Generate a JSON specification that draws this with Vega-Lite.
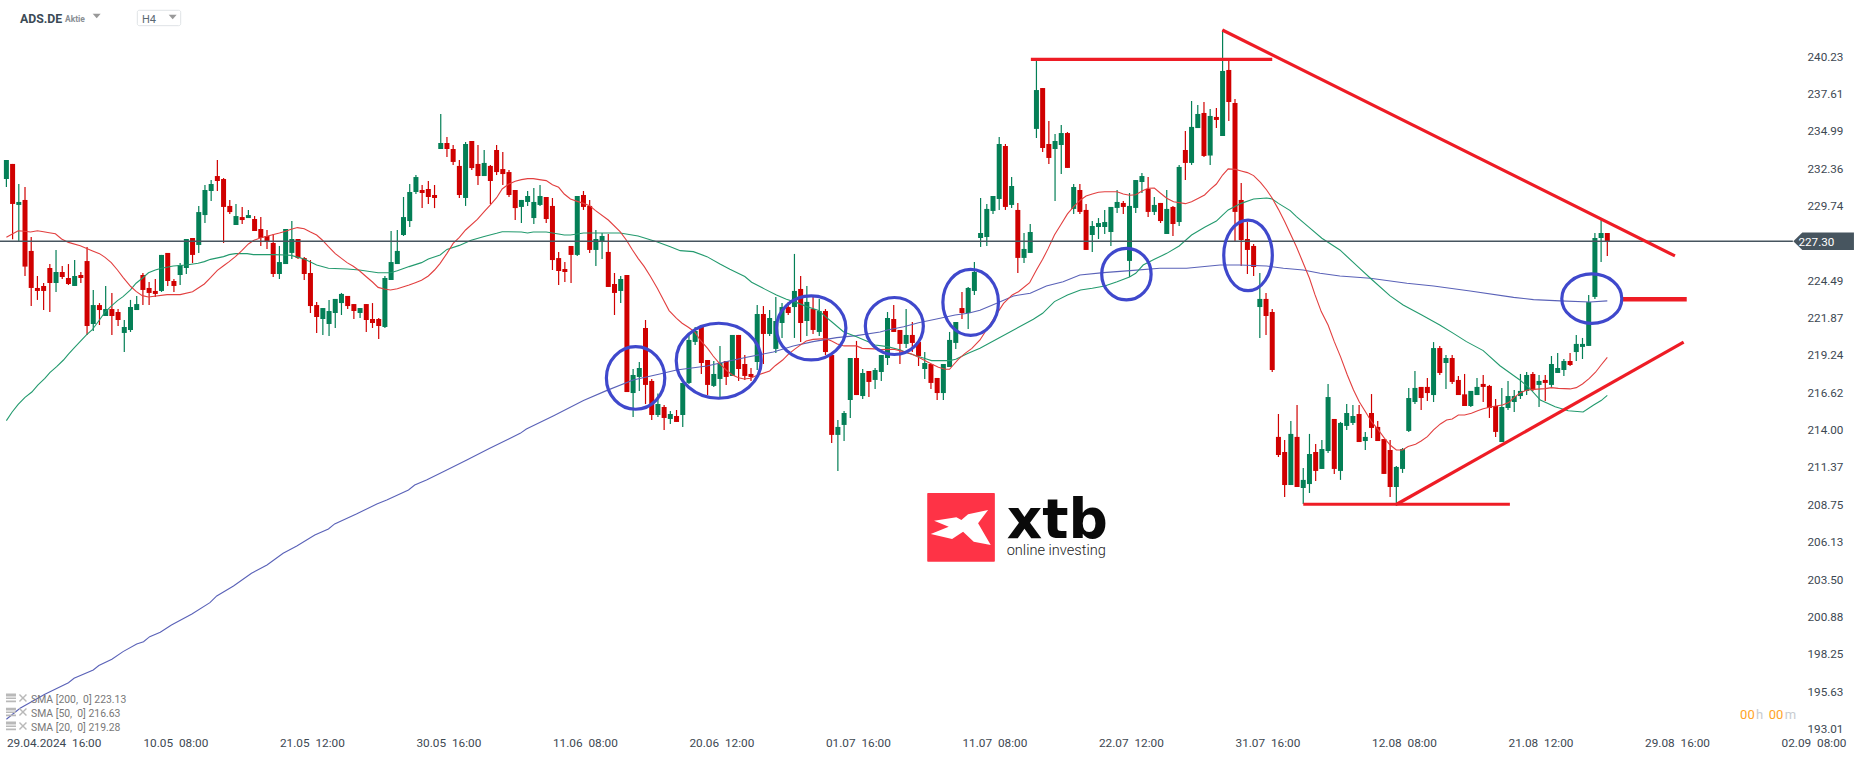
{
"$schema":"https://vega.github.io/schema/vega-lite/v6.json",
"autosize":{"type":"none"},"padding":0,"width":1866,"height":759,"background":"#ffffff",
"config":{"view":{"stroke":null},"font":"Roboto"},
"datasets":{
"candles":[
{"i":0,"o":231.66,"h":233.00,"l":231.10,"c":233.00},{"i":1,"o":232.72,"h":232.72,"l":227.43,"c":229.91},{"i":2,"o":229.84,"h":231.31,"l":227.29,"c":230.05},{"i":3,"o":230.19,"h":231.10,"l":224.85,"c":225.51},{"i":4,"o":226.61,"h":227.59,"l":222.74,"c":224.01},{"i":5,"o":224.01,"h":224.85,"l":223.17,"c":223.80},{"i":6,"o":224.15,"h":224.36,"l":222.46,"c":223.80},{"i":7,"o":225.41,"h":225.69,"l":222.32,"c":224.36},{"i":8,"o":224.36,"h":226.68,"l":223.73,"c":225.13},{"i":9,"o":225.13,"h":225.55,"l":224.64,"c":224.78},
{"i":10,"o":224.71,"h":225.69,"l":224.22,"c":224.29},{"i":11,"o":224.15,"h":225.97,"l":224.15,"c":224.85},{"i":12,"o":224.92,"h":225.13,"l":224.36,"c":224.71},{"i":13,"o":225.90,"h":226.89,"l":220.71,"c":221.34},{"i":14,"o":221.48,"h":223.87,"l":220.99,"c":222.81},{"i":15,"o":222.81,"h":222.95,"l":221.41,"c":222.46},{"i":16,"o":222.04,"h":224.15,"l":222.04,"c":222.53},{"i":17,"o":222.53,"h":223.66,"l":220.71,"c":222.04},{"i":18,"o":222.32,"h":222.53,"l":221.34,"c":221.76},{"i":19,"o":220.85,"h":221.76,"l":219.51,"c":221.27},
{"i":20,"o":221.06,"h":223.17,"l":220.92,"c":222.67},{"i":21,"o":222.46,"h":223.45,"l":222.46,"c":222.88},{"i":22,"o":224.92,"h":225.06,"l":222.81,"c":223.87},{"i":23,"o":224.01,"h":224.43,"l":222.81,"c":223.66},{"i":24,"o":223.80,"h":224.64,"l":223.38,"c":223.59},{"i":25,"o":223.80,"h":226.33,"l":223.73,"c":226.33},{"i":26,"o":226.47,"h":226.47,"l":224.15,"c":224.50},{"i":27,"o":224.50,"h":224.64,"l":223.73,"c":224.15},{"i":28,"o":224.92,"h":225.76,"l":224.22,"c":225.62},{"i":29,"o":225.41,"h":227.45,"l":224.99,"c":227.45},
{"i":30,"o":227.52,"h":227.52,"l":225.76,"c":226.33},{"i":31,"o":227.03,"h":229.77,"l":226.47,"c":229.34},{"i":32,"o":229.13,"h":231.24,"l":228.57,"c":230.89},{"i":33,"o":230.82,"h":231.59,"l":230.12,"c":231.31},{"i":34,"o":231.87,"h":233.00,"l":230.82,"c":231.52},{"i":35,"o":231.66,"h":231.73,"l":227.17,"c":229.70},{"i":36,"o":229.77,"h":230.19,"l":229.20,"c":229.34},{"i":37,"o":228.43,"h":229.91,"l":228.43,"c":229.06},{"i":38,"o":228.99,"h":229.70,"l":228.50,"c":228.78},{"i":39,"o":228.92,"h":229.49,"l":228.92,"c":229.13},
{"i":40,"o":228.85,"h":229.06,"l":228.01,"c":228.01},{"i":41,"o":228.15,"h":228.99,"l":226.96,"c":227.52},{"i":42,"o":227.66,"h":228.08,"l":226.75,"c":227.31},{"i":43,"o":227.17,"h":227.80,"l":224.78,"c":224.99},{"i":44,"o":224.99,"h":226.96,"l":224.64,"c":225.83},{"i":45,"o":225.69,"h":228.15,"l":225.69,"c":228.15},{"i":46,"o":226.47,"h":228.71,"l":226.04,"c":227.45},{"i":47,"o":227.45,"h":227.45,"l":226.04,"c":226.11},{"i":48,"o":226.11,"h":226.18,"l":224.57,"c":224.99},{"i":49,"o":225.06,"h":225.97,"l":222.25,"c":222.74},
{"i":50,"o":222.81,"h":223.02,"l":220.85,"c":221.97},{"i":51,"o":221.83,"h":222.60,"l":220.71,"c":222.60},{"i":52,"o":221.48,"h":223.17,"l":220.64,"c":222.39},{"i":53,"o":222.25,"h":223.24,"l":221.20,"c":223.24},{"i":54,"o":222.95,"h":223.66,"l":222.11,"c":223.59},{"i":55,"o":223.45,"h":223.45,"l":222.53,"c":222.74},{"i":56,"o":222.88,"h":222.88,"l":221.83,"c":222.39},{"i":57,"o":222.25,"h":222.60,"l":221.90,"c":222.60},{"i":58,"o":222.88,"h":222.88,"l":220.92,"c":221.76},{"i":59,"o":221.83,"h":222.95,"l":221.20,"c":221.55},
{"i":60,"o":221.83,"h":221.90,"l":220.43,"c":221.34},{"i":61,"o":221.27,"h":224.85,"l":221.20,"c":224.71},{"i":62,"o":224.57,"h":228.01,"l":224.57,"c":225.83},{"i":63,"o":225.69,"h":228.08,"l":225.69,"c":226.61},{"i":64,"o":227.73,"h":230.40,"l":227.66,"c":228.99},{"i":65,"o":228.71,"h":231.31,"l":228.29,"c":230.75},{"i":66,"o":230.75,"h":231.94,"l":230.61,"c":231.80},{"i":67,"o":230.89,"h":231.24,"l":229.62,"c":230.68},{"i":68,"o":230.96,"h":231.52,"l":229.91,"c":230.40},{"i":69,"o":230.54,"h":231.24,"l":229.62,"c":230.33},
{"i":70,"o":233.77,"h":236.23,"l":233.77,"c":234.19},{"i":71,"o":234.19,"h":234.61,"l":233.21,"c":233.77},{"i":72,"o":233.77,"h":234.05,"l":232.65,"c":232.86},{"i":73,"o":232.58,"h":233.00,"l":230.33,"c":230.54},{"i":74,"o":230.33,"h":234.26,"l":229.77,"c":234.12},{"i":75,"o":234.33,"h":234.33,"l":232.29,"c":232.43},{"i":76,"o":232.72,"h":234.05,"l":231.24,"c":231.87},{"i":77,"o":231.87,"h":233.70,"l":231.87,"c":232.79},{"i":78,"o":232.58,"h":232.65,"l":229.91,"c":231.52},{"i":79,"o":233.70,"h":234.05,"l":231.94,"c":232.15},
{"i":80,"o":232.36,"h":233.56,"l":231.24,"c":232.01},{"i":81,"o":232.15,"h":232.29,"l":230.40,"c":230.54},{"i":82,"o":230.89,"h":230.89,"l":228.78,"c":229.62},{"i":83,"o":229.70,"h":230.19,"l":228.57,"c":230.19},{"i":84,"o":230.05,"h":230.82,"l":229.77,"c":230.47},{"i":85,"o":228.92,"h":231.03,"l":228.50,"c":230.05},{"i":86,"o":229.84,"h":231.24,"l":229.77,"c":230.47},{"i":87,"o":230.40,"h":230.40,"l":228.57,"c":228.85},{"i":88,"o":229.77,"h":230.33,"l":225.27,"c":225.97},{"i":89,"o":226.11,"h":226.54,"l":224.22,"c":225.20},
{"i":90,"o":225.34,"h":225.83,"l":224.43,"c":225.13},{"i":91,"o":226.96,"h":226.96,"l":224.36,"c":226.33},{"i":92,"o":226.33,"h":230.47,"l":226.26,"c":230.47},{"i":93,"o":230.54,"h":230.82,"l":229.49,"c":229.70},{"i":94,"o":229.77,"h":230.19,"l":226.47,"c":226.68},{"i":95,"o":226.68,"h":228.08,"l":225.55,"c":227.45},{"i":96,"o":227.31,"h":227.87,"l":226.05,"c":227.66},{"i":97,"o":226.54,"h":227.80,"l":224.08,"c":224.08},{"i":98,"o":224.29,"h":225.06,"l":222.11,"c":223.66},{"i":99,"o":223.80,"h":224.85,"l":222.95,"c":224.64},
{"i":100,"o":224.92,"h":224.92,"l":216.70,"c":216.70},{"i":101,"o":216.63,"h":218.32,"l":214.95,"c":217.90},{"i":102,"o":217.76,"h":218.81,"l":216.78,"c":218.39},{"i":103,"o":221.20,"h":221.76,"l":215.86,"c":217.20},{"i":104,"o":217.48,"h":217.62,"l":214.74,"c":215.09},{"i":105,"o":215.09,"h":216.59,"l":214.95,"c":215.86},{"i":106,"o":215.65,"h":215.79,"l":214.04,"c":214.88},{"i":107,"o":214.81,"h":215.37,"l":214.46,"c":215.16},{"i":108,"o":215.02,"h":215.44,"l":214.60,"c":214.60},{"i":109,"o":215.09,"h":217.34,"l":214.25,"c":217.34},
{"i":110,"o":217.34,"h":220.71,"l":217.27,"c":220.36},{"i":111,"o":220.22,"h":221.27,"l":220.01,"c":220.99},{"i":112,"o":221.27,"h":221.27,"l":217.97,"c":218.74},{"i":113,"o":218.95,"h":218.95,"l":216.49,"c":217.20},{"i":114,"o":217.13,"h":218.88,"l":217.06,"c":217.97},{"i":115,"o":217.62,"h":219.94,"l":216.35,"c":218.74},{"i":116,"o":218.88,"h":218.88,"l":217.20,"c":217.76},{"i":117,"o":217.83,"h":220.71,"l":217.83,"c":220.71},{"i":118,"o":220.71,"h":220.71,"l":217.48,"c":218.32},{"i":119,"o":218.67,"h":219.30,"l":217.55,"c":217.83},
{"i":120,"o":217.97,"h":218.39,"l":217.48,"c":217.76},{"i":121,"o":218.81,"h":222.81,"l":218.25,"c":222.18},{"i":122,"o":222.18,"h":222.74,"l":218.67,"c":220.78},{"i":123,"o":220.78,"h":222.46,"l":220.64,"c":221.90},{"i":124,"o":219.73,"h":223.38,"l":219.44,"c":221.69},{"i":125,"o":221.55,"h":222.95,"l":220.50,"c":222.67},{"i":126,"o":222.67,"h":223.03,"l":222.11,"c":222.25},{"i":127,"o":222.67,"h":226.40,"l":220.50,"c":223.80},{"i":128,"o":223.94,"h":224.85,"l":220.22,"c":221.55},{"i":129,"o":221.69,"h":224.15,"l":220.64,"c":223.03},
{"i":130,"o":222.53,"h":223.38,"l":220.78,"c":221.06},{"i":131,"o":220.92,"h":223.24,"l":220.64,"c":222.39},{"i":132,"o":222.39,"h":222.53,"l":219.30,"c":219.51},{"i":133,"o":219.30,"h":219.30,"l":213.12,"c":213.69},{"i":134,"o":213.69,"h":214.74,"l":211.16,"c":214.25},{"i":135,"o":214.39,"h":215.37,"l":213.26,"c":215.23},{"i":136,"o":216.14,"h":219.09,"l":214.88,"c":219.09},{"i":137,"o":219.09,"h":220.29,"l":216.49,"c":216.49},{"i":138,"o":216.42,"h":218.32,"l":216.21,"c":218.04},{"i":139,"o":218.18,"h":218.18,"l":216.35,"c":217.41},
{"i":140,"o":217.55,"h":218.39,"l":216.92,"c":218.25},{"i":141,"o":218.11,"h":219.30,"l":217.48,"c":219.30},{"i":142,"o":219.09,"h":222.32,"l":218.60,"c":221.90},{"i":143,"o":221.83,"h":222.81,"l":220.92,"c":220.92},{"i":144,"o":221.06,"h":221.06,"l":218.67,"c":220.08},{"i":145,"o":220.08,"h":222.53,"l":219.80,"c":220.71},{"i":146,"o":220.71,"h":221.62,"l":219.51,"c":220.15},{"i":147,"o":220.22,"h":220.22,"l":218.53,"c":219.23},{"i":148,"o":218.32,"h":219.51,"l":217.62,"c":218.74},{"i":149,"o":218.67,"h":218.67,"l":216.92,"c":217.34},
{"i":150,"o":217.69,"h":217.69,"l":216.14,"c":216.63},{"i":151,"o":216.63,"h":218.67,"l":216.14,"c":218.67},{"i":152,"o":218.46,"h":220.92,"l":218.46,"c":220.36},{"i":153,"o":220.15,"h":221.62,"l":219.73,"c":221.62},{"i":154,"o":222.60,"h":223.73,"l":221.83,"c":222.25},{"i":155,"o":222.25,"h":224.08,"l":221.13,"c":224.01},{"i":156,"o":223.80,"h":225.83,"l":223.52,"c":225.13},{"i":157,"o":227.52,"h":230.33,"l":226.89,"c":227.87},{"i":158,"o":227.59,"h":229.91,"l":226.96,"c":229.56},{"i":159,"o":229.42,"h":230.47,"l":229.21,"c":230.47},
{"i":160,"o":230.26,"h":234.61,"l":229.49,"c":234.12},{"i":161,"o":233.98,"h":234.12,"l":229.49,"c":229.70},{"i":162,"o":229.84,"h":231.80,"l":229.63,"c":231.17},{"i":163,"o":229.49,"h":229.98,"l":225.06,"c":226.12},{"i":164,"o":226.12,"h":227.87,"l":225.76,"c":226.75},{"i":165,"o":226.47,"h":228.50,"l":226.47,"c":227.94},{"i":166,"o":235.18,"h":240.02,"l":234.54,"c":237.91},{"i":167,"o":238.05,"h":238.05,"l":233.56,"c":233.84},{"i":168,"o":234.12,"h":235.74,"l":232.72,"c":233.14},{"i":169,"o":233.77,"h":234.82,"l":230.12,"c":234.33},
{"i":170,"o":234.05,"h":235.46,"l":232.01,"c":234.89},{"i":171,"o":234.89,"h":234.96,"l":232.44,"c":232.44},{"i":172,"o":229.56,"h":231.31,"l":229.21,"c":231.10},{"i":173,"o":230.89,"h":231.31,"l":229.21,"c":229.35},{"i":174,"o":229.49,"h":229.91,"l":226.68,"c":226.68},{"i":175,"o":227.73,"h":228.71,"l":226.54,"c":228.36},{"i":176,"o":228.29,"h":228.92,"l":227.45,"c":228.57},{"i":177,"o":228.29,"h":229.49,"l":227.80,"c":228.64},{"i":178,"o":227.94,"h":229.70,"l":226.96,"c":229.70},{"i":179,"o":229.63,"h":230.89,"l":229.28,"c":230.05},
{"i":180,"o":229.98,"h":230.12,"l":229.21,"c":229.70},{"i":181,"o":225.91,"h":230.68,"l":224.78,"c":229.77},{"i":182,"o":229.63,"h":231.59,"l":229.28,"c":231.59},{"i":183,"o":231.45,"h":232.09,"l":230.68,"c":231.87},{"i":184,"o":230.96,"h":231.80,"l":229.00,"c":229.35},{"i":185,"o":229.35,"h":230.40,"l":229.14,"c":229.84},{"i":186,"o":229.98,"h":229.98,"l":228.57,"c":228.71},{"i":187,"o":227.80,"h":230.89,"l":227.80,"c":229.56},{"i":188,"o":229.70,"h":229.77,"l":227.66,"c":228.50},{"i":189,"o":228.64,"h":232.65,"l":228.36,"c":232.51},
{"i":190,"o":233.70,"h":235.03,"l":231.59,"c":232.79},{"i":191,"o":232.79,"h":237.14,"l":232.65,"c":235.32},{"i":192,"o":235.24,"h":236.86,"l":235.24,"c":236.23},{"i":193,"o":236.30,"h":237.07,"l":233.21,"c":233.28},{"i":194,"o":233.31,"h":236.58,"l":232.65,"c":236.09},{"i":195,"o":236.02,"h":236.65,"l":235.24,"c":235.81},{"i":196,"o":234.68,"h":242.13,"l":234.68,"c":239.25},{"i":197,"o":239.32,"h":239.95,"l":235.74,"c":237.07},{"i":198,"o":237.00,"h":237.28,"l":227.31,"c":229.35},{"i":199,"o":230.19,"h":231.38,"l":225.55,"c":227.38},
{"i":200,"o":227.45,"h":228.64,"l":224.99,"c":226.68},{"i":201,"o":226.96,"h":227.10,"l":224.85,"c":225.48},{"i":202,"o":222.67,"h":225.06,"l":220.50,"c":223.24},{"i":203,"o":223.24,"h":223.66,"l":220.71,"c":222.04},{"i":204,"o":222.32,"h":222.53,"l":218.11,"c":218.25},{"i":205,"o":213.55,"h":215.16,"l":212.14,"c":212.28},{"i":206,"o":212.49,"h":213.33,"l":209.33,"c":210.17},{"i":207,"o":210.17,"h":214.67,"l":210.17,"c":213.76},{"i":208,"o":213.55,"h":215.79,"l":210.03,"c":210.03},{"i":209,"o":209.96,"h":211.37,"l":208.84,"c":210.53},
{"i":210,"o":210.24,"h":213.76,"l":209.61,"c":212.35},{"i":211,"o":212.49,"h":213.05,"l":210.46,"c":211.16},{"i":212,"o":211.30,"h":213.33,"l":211.30,"c":212.70},{"i":213,"o":212.56,"h":217.27,"l":212.42,"c":216.35},{"i":214,"o":214.81,"h":214.81,"l":210.95,"c":211.30},{"i":215,"o":211.16,"h":214.60,"l":210.53,"c":214.53},{"i":216,"o":214.32,"h":215.86,"l":214.04,"c":215.23},{"i":217,"o":214.53,"h":215.79,"l":214.39,"c":215.02},{"i":218,"o":215.16,"h":215.79,"l":213.19,"c":213.19},{"i":219,"o":213.26,"h":213.90,"l":212.63,"c":213.55},
{"i":220,"o":215.23,"h":216.56,"l":213.47,"c":214.18},{"i":221,"o":214.25,"h":214.67,"l":213.26,"c":213.26},{"i":222,"o":213.40,"h":213.40,"l":210.95,"c":210.95},{"i":223,"o":212.63,"h":213.33,"l":209.33,"c":210.03},{"i":224,"o":210.03,"h":211.51,"l":208.70,"c":211.44},{"i":225,"o":211.30,"h":212.77,"l":211.02,"c":212.70},{"i":226,"o":213.97,"h":216.99,"l":213.90,"c":216.28},{"i":227,"o":216.00,"h":218.18,"l":215.86,"c":216.99},{"i":228,"o":217.06,"h":217.06,"l":215.44,"c":216.28},{"i":229,"o":217.06,"h":217.69,"l":216.07,"c":216.63},
{"i":230,"o":216.49,"h":220.21,"l":216.00,"c":219.79},{"i":231,"o":219.79,"h":219.94,"l":217.90,"c":218.04},{"i":232,"o":218.74,"h":219.30,"l":216.92,"c":219.09},{"i":233,"o":219.09,"h":219.30,"l":217.27,"c":217.41},{"i":234,"o":217.55,"h":217.83,"l":216.49,"c":216.49},{"i":235,"o":216.54,"h":217.97,"l":215.72,"c":215.72},{"i":236,"o":215.72,"h":216.78,"l":215.65,"c":216.78},{"i":237,"o":216.49,"h":217.69,"l":216.49,"c":217.06},{"i":238,"o":217.27,"h":217.90,"l":216.00,"c":217.06},{"i":239,"o":217.13,"h":217.20,"l":214.88,"c":215.58},
{"i":240,"o":215.72,"h":216.21,"l":213.55,"c":213.90},{"i":241,"o":213.19,"h":216.99,"l":213.19,"c":215.65},{"i":242,"o":215.58,"h":217.48,"l":215.44,"c":216.42},{"i":243,"o":216.00,"h":216.85,"l":215.30,"c":216.42},{"i":244,"o":216.42,"h":217.97,"l":216.21,"c":216.78},{"i":245,"o":216.78,"h":218.11,"l":216.49,"c":217.90},{"i":246,"o":217.97,"h":218.11,"l":216.78,"c":216.85},{"i":247,"o":217.20,"h":217.90,"l":215.65,"c":217.48},{"i":248,"o":217.55,"h":217.90,"l":216.07,"c":217.34},{"i":249,"o":217.20,"h":219.23,"l":217.06,"c":218.67},
{"i":250,"o":218.04,"h":219.44,"l":218.04,"c":218.39},{"i":251,"o":218.25,"h":219.02,"l":217.83,"c":218.88},{"i":252,"o":218.88,"h":219.44,"l":218.53,"c":218.60},{"i":253,"o":219.51,"h":220.71,"l":218.88,"c":220.08},{"i":254,"o":219.87,"h":220.50,"l":219.02,"c":220.08},{"i":255,"o":219.94,"h":223.52,"l":219.94,"c":223.02},{"i":256,"o":223.38,"h":227.87,"l":223.24,"c":227.52},{"i":257,"o":227.52,"h":228.78,"l":225.83,"c":227.87},{"i":258,"o":227.87,"h":227.87,"l":226.26,"c":227.31}
],
"sma20":[{"i":0,"p":227.57},{"i":1.9,"p":228.03},{"i":2.9,"p":227.99},{"i":3.9,"p":227.94},{"i":5,"p":228.03},{"i":6,"p":227.96},{"i":6.9,"p":227.89},{"i":7.9,"p":227.82},{"i":8.9,"p":227.45},{"i":10,"p":227.21},{"i":11.9,"p":226.98},{"i":13.8,"p":226.63},{"i":15,"p":226.42},{"i":15.9,"p":226.16},{"i":16.9,"p":225.79},{"i":17.9,"p":225.27},{"i":18.8,"p":224.76},{"i":20,"p":224.13},{"i":20.9,"p":223.77},{"i":21.9,"p":223.47},{"i":22.9,"p":223.38},{"i":25.9,"p":223.54},{"i":28,"p":223.54},{"i":30,"p":223.75},{"i":31.9,"p":224.29},{"i":32.9,"p":224.73},{"i":34,"p":225.25},{"i":35,"p":225.57},{"i":35.9,"p":225.86},{"i":36.9,"p":226.21},{"i":37.9,"p":226.61},{"i":39,"p":227.10},{"i":39.9,"p":227.36},{"i":40.9,"p":227.52},{"i":42.9,"p":227.75},{"i":44,"p":227.87},{"i":45,"p":227.99},{"i":45.9,"p":228.13},{"i":46.9,"p":228.25},{"i":48,"p":228.17},{"i":49,"p":227.94},{"i":50,"p":227.73},{"i":50.9,"p":227.38},{"i":51.9,"p":226.91},{"i":53,"p":226.42},{"i":54,"p":226.09},{"i":54.9,"p":225.79},{"i":55.9,"p":225.53},{"i":56.9,"p":225.22},{"i":58,"p":224.80},{"i":59,"p":224.43},{"i":59.9,"p":224.05},{"i":60.9,"p":223.94},{"i":61.9,"p":223.87},{"i":63,"p":223.96},{"i":64.9,"p":224.22},{"i":65.9,"p":224.38},{"i":66.9,"p":224.55},{"i":68,"p":224.85},{"i":69,"p":225.27},{"i":69.9,"p":225.74},{"i":71,"p":226.44},{"i":72,"p":227.14},{"i":73,"p":227.57},{"i":74,"p":228.08},{"i":75.9,"p":228.83},{"i":77,"p":229.37},{"i":78,"p":229.84},{"i":79,"p":230.35},{"i":79.9,"p":230.96},{"i":80.9,"p":231.29},{"i":82,"p":231.50},{"i":83,"p":231.62},{"i":84,"p":231.69},{"i":84.9,"p":231.69},{"i":85.9,"p":231.62},{"i":87,"p":231.55},{"i":88,"p":231.26},{"i":89,"p":231.08},{"i":89.9,"p":230.61},{"i":90.9,"p":230.26},{"i":92,"p":230.09},{"i":93,"p":229.95},{"i":94,"p":229.79},{"i":94.9,"p":229.46},{"i":97,"p":228.78},{"i":98.9,"p":227.96},{"i":99.9,"p":227.38},{"i":100.9,"p":226.68},{"i":101.8,"p":226.09},{"i":102.8,"p":225.51},{"i":103.8,"p":224.81},{"i":104.9,"p":223.99},{"i":105.9,"p":223.17},{"i":106.8,"p":222.42},{"i":108,"p":221.88},{"i":108.9,"p":221.53},{"i":109.9,"p":221.25},{"i":110.9,"p":220.94},{"i":111.8,"p":220.36},{"i":113,"p":219.77},{"i":113.9,"p":219.23},{"i":114.9,"p":218.72},{"i":116,"p":218.25},{"i":117,"p":217.90},{"i":118,"p":217.71},{"i":118.9,"p":217.62},{"i":119.9,"p":217.67},{"i":121,"p":217.88},{"i":123,"p":218.18},{"i":123.9,"p":218.55},{"i":125.1,"p":218.95},{"i":126,"p":219.35},{"i":127,"p":219.70},{"i":128,"p":220.01},{"i":128.9,"p":220.29},{"i":130,"p":220.40},{"i":132,"p":220.45},{"i":133,"p":220.29},{"i":133.9,"p":220.08},{"i":135,"p":219.94},{"i":137,"p":219.94},{"i":137.9,"p":219.77},{"i":139.9,"p":219.73},{"i":140.8,"p":219.68},{"i":143,"p":219.70},{"i":144.6,"p":219.54},{"i":145.9,"p":219.37},{"i":147,"p":219.14},{"i":148,"p":218.91},{"i":149.1,"p":218.67},{"i":150.2,"p":218.44},{"i":151.3,"p":218.30},{"i":152,"p":218.30},{"i":152.6,"p":218.60},{"i":153.4,"p":219.00},{"i":154.5,"p":219.42},{"i":155.6,"p":219.77},{"i":156.9,"p":220.36},{"i":160.7,"p":222.93},{"i":162.1,"p":223.52},{"i":163.1,"p":223.75},{"i":164.9,"p":224.38},{"i":166,"p":225.27},{"i":167,"p":226.02},{"i":167.9,"p":226.79},{"i":168.9,"p":227.73},{"i":169.9,"p":228.43},{"i":171,"p":229.21},{"i":172,"p":229.72},{"i":173.1,"p":230.19},{"i":174,"p":230.47},{"i":175,"p":230.61},{"i":176,"p":230.73},{"i":177,"p":230.77},{"i":179,"p":230.77},{"i":180,"p":230.61},{"i":181,"p":230.52},{"i":182,"p":230.56},{"i":183.1,"p":230.84},{"i":184,"p":231.01},{"i":185,"p":231.03},{"i":186,"p":230.66},{"i":187,"p":230.31},{"i":188.1,"p":230.07},{"i":190,"p":229.93},{"i":191,"p":230.07},{"i":192.1,"p":230.31},{"i":193.1,"p":230.54},{"i":194,"p":230.94},{"i":195,"p":231.31},{"i":196,"p":231.94},{"i":196.9,"p":232.37},{"i":198.1,"p":232.34},{"i":199,"p":232.23},{"i":200,"p":232.11},{"i":201,"p":231.90},{"i":202.1,"p":231.43},{"i":203.1,"p":230.89},{"i":204,"p":230.31},{"i":205,"p":229.53},{"i":206,"p":228.67},{"i":207.9,"p":226.91},{"i":209,"p":225.74},{"i":210,"p":224.69},{"i":210.9,"p":223.52},{"i":211.9,"p":222.35},{"i":213,"p":221.41},{"i":214,"p":220.24},{"i":215,"p":219.19},{"i":216.1,"p":217.90},{"i":217.1,"p":216.85},{"i":218,"p":216.03},{"i":219,"p":215.33},{"i":220,"p":214.62},{"i":221.1,"p":214.04},{"i":222.1,"p":213.45},{"i":223,"p":212.98},{"i":224,"p":212.63},{"i":225,"p":212.63},{"i":225.9,"p":212.87},{"i":227.1,"p":213.03},{"i":228,"p":213.26},{"i":229,"p":213.57},{"i":230,"p":214.04},{"i":231.1,"p":214.46},{"i":232.1,"p":214.74},{"i":233,"p":214.81},{"i":234,"p":215.09},{"i":235,"p":215.09},{"i":236.1,"p":215.21},{"i":237.1,"p":215.39},{"i":238,"p":215.53},{"i":239,"p":215.63},{"i":240,"p":215.72},{"i":241.1,"p":215.79},{"i":242.1,"p":215.96},{"i":243,"p":216.33},{"i":244,"p":216.66},{"i":245.1,"p":216.85},{"i":246.1,"p":216.89},{"i":248,"p":216.94},{"i":249,"p":217.01},{"i":250.1,"p":216.96},{"i":251.1,"p":216.94},{"i":252,"p":216.92},{"i":253,"p":217.01},{"i":254,"p":217.27},{"i":255.1,"p":217.66},{"i":256.1,"p":218.09},{"i":257,"p":218.60},{"i":258,"p":219.14}],
"sma50":[{"i":0,"p":214.69},{"i":0.9,"p":215.28},{"i":1.9,"p":215.84},{"i":3,"p":216.33},{"i":4.1,"p":216.70},{"i":5.1,"p":217.20},{"i":6.2,"p":217.66},{"i":7,"p":218.06},{"i":8.1,"p":218.48},{"i":9.2,"p":218.95},{"i":10,"p":219.37},{"i":11,"p":219.84},{"i":12.9,"p":220.71},{"i":13.8,"p":221.06},{"i":15,"p":221.76},{"i":15.9,"p":222.32},{"i":16.9,"p":222.74},{"i":17.9,"p":223.12},{"i":18.8,"p":223.40},{"i":20,"p":223.87},{"i":20.9,"p":224.34},{"i":21.9,"p":224.69},{"i":22.9,"p":225.08},{"i":24,"p":225.27},{"i":25,"p":225.39},{"i":26.9,"p":225.55},{"i":29,"p":225.62},{"i":30.9,"p":225.74},{"i":31.9,"p":225.86},{"i":32.9,"p":226.02},{"i":35,"p":226.21},{"i":35.9,"p":226.35},{"i":36.9,"p":226.42},{"i":38.8,"p":226.42},{"i":39.8,"p":226.35},{"i":43,"p":226.35},{"i":45,"p":226.33},{"i":45.9,"p":226.30},{"i":48,"p":226.04},{"i":50,"p":225.62},{"i":51.9,"p":225.39},{"i":54.9,"p":225.34},{"i":56.9,"p":225.27},{"i":59.9,"p":225.08},{"i":61.9,"p":225.08},{"i":63,"p":225.22},{"i":64.9,"p":225.51},{"i":66.9,"p":225.79},{"i":68,"p":226.04},{"i":69.9,"p":226.33},{"i":71,"p":226.72},{"i":73,"p":227.00},{"i":74.9,"p":227.36},{"i":77,"p":227.63},{"i":79,"p":227.85},{"i":79.9,"p":227.96},{"i":80.9,"p":227.96},{"i":83,"p":227.94},{"i":84,"p":227.87},{"i":84.9,"p":227.94},{"i":87,"p":227.94},{"i":89,"p":227.80},{"i":89.9,"p":227.73},{"i":90.9,"p":227.73},{"i":92,"p":227.80},{"i":93,"p":227.87},{"i":95.7,"p":227.87},{"i":98.9,"p":227.87},{"i":101.8,"p":227.66},{"i":104.8,"p":227.26},{"i":107,"p":226.91},{"i":108.6,"p":226.63},{"i":110.7,"p":226.56},{"i":112.9,"p":226.21},{"i":115,"p":225.69},{"i":116.6,"p":225.32},{"i":119,"p":224.81},{"i":120.1,"p":224.41},{"i":122.3,"p":223.91},{"i":124.1,"p":223.52},{"i":125.7,"p":223.21},{"i":127.4,"p":222.98},{"i":129,"p":222.70},{"i":130.9,"p":222.42},{"i":132,"p":222.00},{"i":133,"p":221.64},{"i":134.9,"p":220.94},{"i":137,"p":220.59},{"i":138.9,"p":220.24},{"i":140,"p":220.01},{"i":142,"p":219.89},{"i":144.1,"p":219.65},{"i":145,"p":219.47},{"i":147,"p":219.19},{"i":147.9,"p":219.07},{"i":149.1,"p":218.91},{"i":152,"p":218.91},{"i":153,"p":219.00},{"i":155,"p":219.42},{"i":156.9,"p":219.77},{"i":165.5,"p":221.81},{"i":167,"p":222.23},{"i":168.9,"p":223.05},{"i":171,"p":223.52},{"i":173.1,"p":223.87},{"i":175,"p":223.99},{"i":177,"p":224.15},{"i":179,"p":224.45},{"i":181,"p":224.78},{"i":182,"p":225.04},{"i":183.2,"p":225.62},{"i":185,"p":226.02},{"i":187,"p":226.44},{"i":189,"p":226.96},{"i":191,"p":227.73},{"i":193.1,"p":228.27},{"i":195,"p":228.71},{"i":196,"p":229.13},{"i":196.9,"p":229.49},{"i":199,"p":229.95},{"i":201,"p":230.26},{"i":203.1,"p":230.33},{"i":204,"p":230.26},{"i":205,"p":229.95},{"i":206.9,"p":229.44},{"i":207.9,"p":229.02},{"i":209.8,"p":228.32},{"i":212,"p":227.50},{"i":214.9,"p":226.68},{"i":218.1,"p":225.39},{"i":220,"p":224.62},{"i":223,"p":223.45},{"i":225.1,"p":222.81},{"i":228.1,"p":222.11},{"i":231,"p":221.41},{"i":233.2,"p":220.82},{"i":235.3,"p":220.24},{"i":238,"p":219.61},{"i":240.7,"p":218.55},{"i":243.9,"p":217.55},{"i":245.5,"p":216.96},{"i":247.2,"p":216.14},{"i":249.6,"p":215.67},{"i":251.7,"p":215.39},{"i":254.1,"p":215.30},{"i":255.8,"p":215.79},{"i":257,"p":216.10},{"i":258,"p":216.47}],
"sma200":[{"i":0,"p":193.72},{"i":2.2,"p":194.49},{"i":6.2,"p":195.47},{"i":10,"p":196.29},{"i":10.9,"p":196.60},{"i":14,"p":197.18},{"i":14.9,"p":197.49},{"i":17,"p":197.93},{"i":18.8,"p":198.47},{"i":21,"p":199.01},{"i":22.1,"p":199.17},{"i":23.1,"p":199.52},{"i":24.8,"p":199.83},{"i":26.6,"p":200.34},{"i":29.9,"p":201.12},{"i":32.8,"p":201.91},{"i":33.9,"p":202.38},{"i":36.6,"p":203.08},{"i":39.5,"p":203.97},{"i":42,"p":204.56},{"i":44.6,"p":205.38},{"i":46.8,"p":205.89},{"i":49.7,"p":206.66},{"i":51.9,"p":207.08},{"i":52.9,"p":207.44},{"i":56.4,"p":208.13},{"i":59.7,"p":208.84},{"i":61.3,"p":209.12},{"i":64.8,"p":209.82},{"i":65.8,"p":210.17},{"i":67.7,"p":210.53},{"i":70.4,"p":211.11},{"i":74.2,"p":211.93},{"i":77.9,"p":212.75},{"i":82.8,"p":213.80},{"i":83.8,"p":214.11},{"i":88.2,"p":215.04},{"i":93,"p":216.10},{"i":96.7,"p":216.80},{"i":101,"p":217.55},{"i":105.3,"p":217.97},{"i":108,"p":218.25},{"i":112.9,"p":218.53},{"i":116.1,"p":218.84},{"i":119.3,"p":219.14},{"i":123.6,"p":219.51},{"i":126.8,"p":219.94},{"i":130,"p":220.24},{"i":133.8,"p":220.52},{"i":137,"p":220.66},{"i":140.8,"p":220.92},{"i":142,"p":221.06},{"i":144.6,"p":221.29},{"i":147,"p":221.57},{"i":149.9,"p":221.83},{"i":152.9,"p":222.11},{"i":155,"p":222.23},{"i":156.9,"p":222.44},{"i":159.6,"p":222.93},{"i":162.3,"p":223.45},{"i":165,"p":223.64},{"i":167.6,"p":224.15},{"i":170.3,"p":224.45},{"i":173,"p":224.92},{"i":176.8,"p":225.09},{"i":181.1,"p":225.23},{"i":185.9,"p":225.39},{"i":190.2,"p":225.39},{"i":195.6,"p":225.62},{"i":198.8,"p":225.62},{"i":203.1,"p":225.55},{"i":205.8,"p":225.39},{"i":209,"p":225.27},{"i":211.7,"p":225.04},{"i":214.9,"p":224.85},{"i":219.8,"p":224.69},{"i":225.7,"p":224.34},{"i":230,"p":224.15},{"i":235.9,"p":223.80},{"i":242.9,"p":223.35},{"i":246.1,"p":223.19},{"i":250.4,"p":223.10},{"i":255.2,"p":223.02},{"i":258,"p":223.10}]
},
"layer":[
{"data":{"name":"candles"},"mark":{"type":"rule","strokeWidth":1.2},
 "encoding":{
  "x":{"field":"i","type":"quantitative","scale":{"domain":[-1.03,299.69],"nice":false,"zero":false,"padding":0},
   "axis":{"title":null,"orient":"bottom","offset":-17,"domain":false,"ticks":false,"grid":false,"labelPadding":0,"labelAlign":"left","labelBaseline":"middle","labelFont":"Roboto","labelFontSize":11.8,"labelColor":"#3d4852","labelOverlap":false,"labelBound":false,"labelFlush":false,
    "values":[0,22,44,66,88,110,132,154,176,198,220,242,264,286],
    "labelExpr":"['29.04.2024\u00a0\u00a016:00','10.05\u00a0\u00a008:00','21.05\u00a0\u00a012:00','30.05\u00a0\u00a016:00','11.06\u00a0\u00a008:00','20.06\u00a0\u00a012:00','01.07\u00a0\u00a016:00','11.07\u00a0\u00a008:00','22.07\u00a0\u00a012:00','31.07\u00a0\u00a016:00','12.08\u00a0\u00a008:00','21.08\u00a0\u00a012:00','29.08\u00a0\u00a016:00','02.09\u00a0\u00a008:00'][datum.value/22]"}},
  "y":{"field":"l","type":"quantitative","scale":{"domain":[190.93,244.233],"nice":false,"zero":false,"padding":0},
   "axis":{"title":null,"orient":"right","offset":-59,"domain":false,"ticks":false,"grid":false,"labelPadding":0,"labelOffset":-1,"labelAlign":"left","labelBaseline":"middle","labelFont":"Roboto","labelFontSize":11.7,"labelColor":"#3d4852","labelOverlap":false,"labelBound":false,"labelFlush":false,"format":".2f",
    "values":[240.23,237.61,234.99,232.36,229.74,224.49,221.87,219.24,216.62,214.00,211.37,208.75,206.13,203.50,200.88,198.25,195.63,193.01]}},
  "y2":{"field":"h"},
  "color":{"condition":{"test":"datum.c>=datum.o","value":"#047f56"},"value":"#d00000"}}},
{"data":{"name":"candles"},"mark":{"type":"bar","size":5},
 "encoding":{"x":{"field":"i","type":"quantitative"},"y":{"field":"o","type":"quantitative"},"y2":{"field":"c"},
  "color":{"condition":{"test":"datum.c>=datum.o","value":"#047f56"},"value":"#d00000"}}},
{"data":{"name":"sma200"},"mark":{"type":"line","color":"#5a62b8","strokeWidth":1.1},"encoding":{"x":{"field":"i","type":"quantitative"},"y":{"field":"p","type":"quantitative"}}},
{"data":{"name":"sma50"},"mark":{"type":"line","color":"#239a6e","strokeWidth":1.1},"encoding":{"x":{"field":"i","type":"quantitative"},"y":{"field":"p","type":"quantitative"}}},
{"data":{"name":"sma20"},"mark":{"type":"line","color":"#e23f3f","strokeWidth":1.1},"encoding":{"x":{"field":"i","type":"quantitative"},"y":{"field":"p","type":"quantitative"}}},
{"data":{"values":[{"i":-1.03,"i2":287.9,"p":227.29}]},"mark":{"type":"rule","color":"#47555f","strokeWidth":1.4},"encoding":{"x":{"field":"i","type":"quantitative"},"x2":{"field":"i2"},"y":{"field":"p","type":"quantitative"}}},
{"data":{"values":[{"i":165.1,"p":240.07,"i2":204.0,"p2":240.07},{"i":195.96,"p":242.13,"i2":268.9,"p2":226.26},{"i":224.06,"p":208.82,"i2":270.3,"p2":220.2},{"i":209.0,"p":208.82,"i2":242.3,"p2":208.82}]},"mark":{"type":"rule","color":"#ee1c25","strokeWidth":3.2},"encoding":{"x":{"field":"i","type":"quantitative"},"x2":{"field":"i2"},"y":{"field":"p","type":"quantitative"},"y2":{"field":"p2"}}},
{"data":{"values":[{"i":260.5,"i2":270.8,"p":223.21}]},"mark":{"type":"rule","color":"#ee1c25","strokeWidth":4.5},"encoding":{"x":{"field":"i","type":"quantitative"},"x2":{"field":"i2"},"y":{"field":"p","type":"quantitative"}}},
{"data":{"values":[{"k":"e1","i":101.4,"p":217.69},{"k":"e2","i":114.8,"p":218.90},{"k":"e3","i":129.7,"p":221.20},{"k":"e4","i":143.1,"p":221.34},{"k":"e5","i":155.4,"p":223.00},{"k":"e6","i":180.5,"p":224.98},{"k":"e7","i":200.1,"p":226.30},{"k":"e8","i":255.5,"p":223.26}]},
 "mark":{"type":"point","filled":false,"size":10000,"stroke":"#3f48cc","strokeWidth":3.2,"opacity":1},
 "encoding":{"x":{"field":"i","type":"quantitative"},"y":{"field":"p","type":"quantitative"},
  "shape":{"field":"k","type":"nominal","legend":null,"scale":{"domain":["e1","e2","e3","e4","e5","e6","e7","e8","x","tag","bars","cross","tri"],"range":[
  "M-0.584,0A0.584,0.626 0 1,1 0.584,0A0.584,0.626 0 1,1 -0.584,0Z",
  "M-0.85,0A0.85,0.75 0 1,1 0.85,0A0.85,0.75 0 1,1 -0.85,0Z",
  "M-0.694,0A0.694,0.64 0 1,1 0.694,0A0.694,0.64 0 1,1 -0.694,0Z",
  "M-0.58,0A0.58,0.57 0 1,1 0.58,0A0.58,0.57 0 1,1 -0.58,0Z",
  "M-0.556,0A0.556,0.66 0 1,1 0.556,0A0.556,0.66 0 1,1 -0.556,0Z",
  "M-0.494,0A0.494,0.516 0 1,1 0.494,0A0.494,0.516 0 1,1 -0.494,0Z",
  "M-0.486,0A0.486,0.706 0 1,1 0.486,0A0.486,0.706 0 1,1 -0.486,0Z",
  "M-0.6,0A0.6,0.494 0 1,1 0.6,0A0.6,0.494 0 1,1 -0.6,0Z",
  "M0.547,-0.347L0.347,-0.08L0.6,0.353L0.26,0.287L0.047,0.087L-0.173,0.233L-0.6,0.133L-0.24,-0.013L-0.533,-0.133L-0.087,-0.2L0.013,-0.147L0.147,-0.26Z",
  "M-0.606,0L-0.426,-0.174L0.606,-0.174L0.606,0.174L-0.426,0.174Z",
  "M-0.1,-0.087L0.1,-0.087L0.1,-0.03L-0.1,-0.03ZM-0.1,-0.01L0.1,-0.01L0.1,0.02L-0.1,0.02ZM-0.1,0.05L0.1,0.05L0.1,0.087L-0.1,0.087Z",
  "M-0.08,-0.06L-0.06,-0.08L0,-0.02L0.06,-0.08L0.08,-0.06L0.02,0L0.08,0.06L0.06,0.08L0,0.02L-0.06,0.08L-0.08,0.06L-0.02,0Z",
  "M-0.08,-0.045L0.08,-0.045L0,0.045Z"]}}}},
{"data":{"values":[{"i":148.4,"i2":159.3,"p":209.61,"p2":204.79}]},"mark":{"type":"rect","color":"#fe3346","cornerRadius":1},"encoding":{"x":{"field":"i","type":"quantitative"},"x2":{"field":"i2"},"y":{"field":"p","type":"quantitative"},"y2":{"field":"p2"}}},
{"data":{"values":[{"i":21.1,"i2":28.09,"p":243.51,"p2":242.43}]},"mark":{"type":"rect","fill":null,"fillOpacity":0,"stroke":"#dfe3e6","strokeWidth":1,"cornerRadius":2},"encoding":{"x":{"field":"i","type":"quantitative"},"x2":{"field":"i2"},"y":{"field":"p","type":"quantitative"},"y2":{"field":"p2"}}},
{"data":{"values":[{"k":"x","i":153.8,"p":207.20},{"k":"tag","i":292.86,"p":227.29},{"k":"bars","i":0.74,"p":195.22},{"k":"bars","i":0.74,"p":194.23},{"k":"bars","i":0.74,"p":193.25},{"k":"cross","i":2.67,"p":195.22},{"k":"cross","i":2.67,"p":194.23},{"k":"cross","i":2.67,"p":193.25},{"k":"tri","i":14.55,"p":243.11},{"k":"tri","i":26.8,"p":243.04}]},
 "mark":{"type":"point","filled":true,"size":10000,"opacity":1,"strokeWidth":0},
 "encoding":{"x":{"field":"i","type":"quantitative"},"y":{"field":"p","type":"quantitative"},
  "shape":{"field":"k","type":"nominal","legend":null},
  "color":{"field":"k","type":"nominal","legend":null,"scale":{"domain":["x","tag","bars","cross","tri"],"range":["#ffffff","#47555f","#b9b9b9","#b9b9b9","#999999"]}}}},
{"data":{"values":[{"t":"227.30","i":288.8,"p":227.27}]},"mark":{"type":"text","align":"left","baseline":"middle","font":"Roboto","fontSize":11.7,"color":"#ffffff"},"encoding":{"x":{"field":"i","type":"quantitative"},"y":{"field":"p","type":"quantitative"},"text":{"field":"t"}}},
{"data":{"values":[{"t":"ADS.DE","i":2.19,"p":242.88}]},"mark":{"type":"text","align":"left","baseline":"middle","font":"Roboto","fontSize":12.3,"fontWeight":"bold","color":"#3c4b56"},"encoding":{"x":{"field":"i","type":"quantitative"},"y":{"field":"p","type":"quantitative"},"text":{"field":"t"}}},
{"data":{"values":[{"t":"Aktie","i":9.44,"p":242.88}]},"mark":{"type":"text","align":"left","baseline":"middle","font":"Roboto","fontSize":8.5,"fontWeight":"bold","color":"#8a8f94"},"encoding":{"x":{"field":"i","type":"quantitative"},"y":{"field":"p","type":"quantitative"},"text":{"field":"t"}}},
{"data":{"values":[{"t":"H4","i":21.85,"p":242.83}]},"mark":{"type":"text","align":"left","baseline":"middle","font":"Roboto","fontSize":11,"color":"#5a6872"},"encoding":{"x":{"field":"i","type":"quantitative"},"y":{"field":"p","type":"quantitative"},"text":{"field":"t"}}},
{"data":{"values":[{"t":"SMA [200,\u00a0\u00a00] 223.13","i":3.96,"p":195.07},{"t":"SMA [50,\u00a0\u00a00] 216.63","i":3.96,"p":194.09},{"t":"SMA [20,\u00a0\u00a00] 219.28","i":3.96,"p":193.11}]},"mark":{"type":"text","align":"left","baseline":"middle","font":"Roboto","fontSize":10.4,"color":"#787878"},"encoding":{"x":{"field":"i","type":"quantitative"},"y":{"field":"p","type":"quantitative"},"text":{"field":"t"}}},
{"data":{"values":[{"t":"00","i":279.4,"p":194.04},{"t":"00","i":284.0,"p":194.04}]},"mark":{"type":"text","align":"left","baseline":"middle","font":"Roboto","fontSize":13,"color":"#ffa426"},"encoding":{"x":{"field":"i","type":"quantitative"},"y":{"field":"p","type":"quantitative"},"text":{"field":"t"}}},
{"data":{"values":[{"t":"h","i":281.97,"p":194.04},{"t":"m","i":286.6,"p":194.04}]},"mark":{"type":"text","align":"left","baseline":"middle","font":"Roboto","fontSize":13,"color":"#c8ccd0"},"encoding":{"x":{"field":"i","type":"quantitative"},"y":{"field":"p","type":"quantitative"},"text":{"field":"t"}}},
{"data":{"values":[{"t":"xtb","i":161.2,"p":206.43}]},"mark":{"type":"text","align":"left","baseline":"alphabetic","font":"DejaVu Sans","fontSize":55,"fontWeight":"bold","color":"#0a0a0a"},"encoding":{"x":{"field":"i","type":"quantitative"},"y":{"field":"p","type":"quantitative"},"text":{"field":"t"}}},
{"data":{"values":[{"t":"online investing","i":161.2,"p":205.26}]},"mark":{"type":"text","align":"left","baseline":"alphabetic","font":"Roboto","fontSize":14.6,"fontWeight":300,"color":"#222222"},"encoding":{"x":{"field":"i","type":"quantitative"},"y":{"field":"p","type":"quantitative"},"text":{"field":"t"}}}
]}
